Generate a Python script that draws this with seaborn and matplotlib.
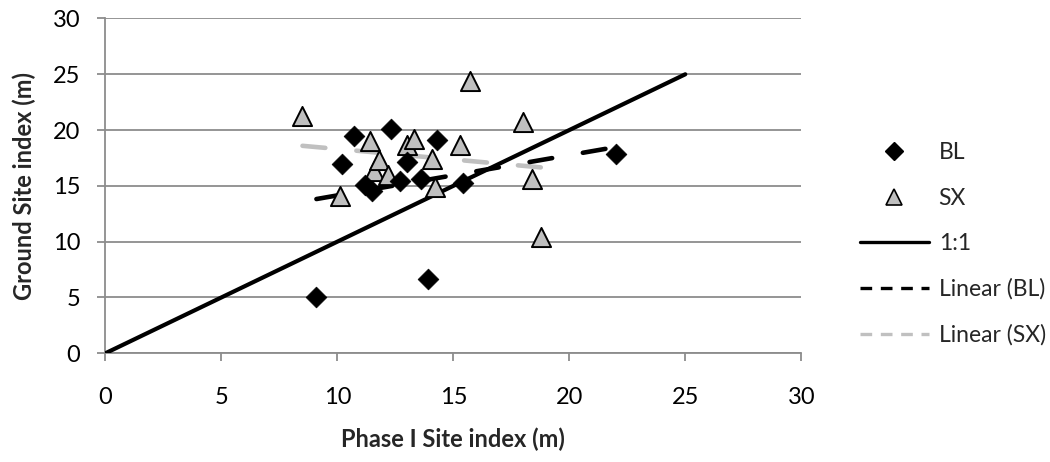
import numpy as np
import pandas as pd
import matplotlib
matplotlib.use("Agg")
import matplotlib.pyplot as plt
from matplotlib.lines import Line2D
import seaborn as sns

# Phase I vs ground site index, black spruce (BL) and white spruce (SX)
bl_phase1 = [9.1, 10.2, 10.7, 11.2, 11.5, 12.3, 12.7, 13.0, 13.6, 13.9, 14.3, 15.4, 22.0]
bl_ground = [5.0, 17.0, 19.5, 15.1, 14.5, 20.1, 15.4, 17.1, 15.6, 6.7, 19.1, 15.3, 17.9]

sx_phase1 = [8.5, 10.1, 11.4, 11.6, 11.8, 12.2, 13.0, 13.3, 14.1, 14.2, 15.3, 15.7, 18.0, 18.4, 18.8]
sx_ground = [21.3, 14.1, 19.0, 16.3, 17.3, 16.0, 18.7, 19.2, 17.4, 14.9, 18.7, 24.4, 20.7, 15.6, 10.4]

one_to_one = [0, 25]
ticks = [0, 5, 10, 15, 20, 25, 30]

bl = pd.DataFrame({"phase1": bl_phase1, "ground": bl_ground})
sx = pd.DataFrame({"phase1": sx_phase1, "ground": sx_ground})
ref = pd.DataFrame({"phase1": one_to_one, "ground": one_to_one})

sns.set_theme(style="white")
plt.rcParams["font.family"] = ["Lato", "DejaVu Sans"]

fig = plt.figure(figsize=(10.5, 4.62), dpi=100)
ax = fig.add_axes([0.1003, 0.2353, 0.6628, 0.7247])

grid_c = "#8c8c8c"
ax.set_axisbelow(True)
ax.yaxis.grid(True, color=grid_c, lw=1.3)
ax.xaxis.grid(False)

# 1:1 reference line
sns.lineplot(data=ref, x="phase1", y="ground", ax=ax, color="black", lw=3.0,
             solid_capstyle="round", zorder=3)

# linear fits
sns.regplot(data=bl, x="phase1", y="ground", ax=ax, scatter=False, ci=None,
            truncate=True, color="black",
            line_kws=dict(lw=3.3, dashes=(5.0, 6.8), dash_capstyle="round", zorder=4))
sns.regplot(data=sx, x="phase1", y="ground", ax=ax, scatter=False, ci=None,
            truncate=True, color="#c0c0c0",
            line_kws=dict(lw=3.3, dashes=(5.0, 6.8), dash_capstyle="round", zorder=2))

# observations
sns.scatterplot(data=sx, x="phase1", y="ground", ax=ax, marker="^", s=190,
                color="#bfbfbf", edgecolor="black", linewidth=1.4, zorder=5)
sns.scatterplot(data=bl, x="phase1", y="ground", ax=ax, marker="D", s=112,
                color="black", edgecolor="black", linewidth=0.5, zorder=6)

ax.set_xlim(0, 30)
ax.set_ylim(0, 30)
ax.set_xticks(ticks)
ax.set_yticks(ticks)
ax.tick_params(axis="both", which="major", direction="out", length=6, width=1.3,
               color=grid_c, labelsize=17, labelcolor="black", left=True, bottom=True)
ax.tick_params(axis="x", pad=18)
ax.tick_params(axis="y", pad=12)

for side in ["top", "right"]:
    ax.spines[side].set_visible(False)
for side in ["left", "bottom"]:
    ax.spines[side].set_color(grid_c)
    ax.spines[side].set_linewidth(1.3)

ax.set_xlabel("Phase I Site index (m)", fontsize=17, fontweight="bold", labelpad=14)
ax.set_ylabel("Ground Site index (m)", fontsize=17, fontweight="bold", labelpad=12)

handles = [
    Line2D([], [], ls="none", marker="D", ms=9, color="black"),
    Line2D([], [], ls="none", marker="^", ms=11, markerfacecolor="#bfbfbf",
           markeredgecolor="black", markeredgewidth=1.2),
    Line2D([], [], color="black", lw=2.4),
    Line2D([], [], color="black", lw=2.4, dashes=(3.5, 2.6)),
    Line2D([], [], color="#c0c0c0", lw=2.4, dashes=(3.5, 2.6)),
]
labels = ["BL", "SX", "1:1", "Linear (BL)", "Linear (SX)"]
fig.legend(handles, labels, loc="center left", bbox_to_anchor=(0.808, 0.472),
           bbox_transform=fig.transFigure, frameon=False, fontsize=16.5,
           handlelength=3.0, handletextpad=0.44, labelspacing=1.06, borderpad=0)

fig.savefig("out.png", dpi=100)
